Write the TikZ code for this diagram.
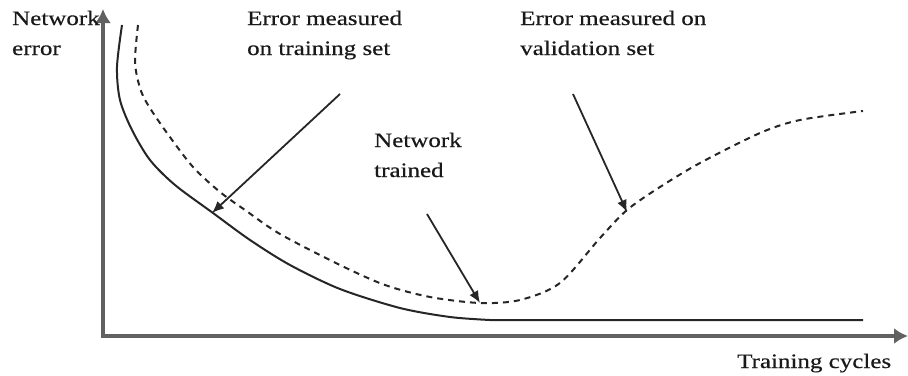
\documentclass[tikz,border=0pt]{standalone}
\usepackage{fontspec}
\setmainfont{Liberation Serif}
\newfontfamily\lblfont[FakeStretch=1.22,FakeBold=0.4]{Liberation Serif}
\usetikzlibrary{arrows.meta}
\tikzset{
  lbl/.style={font=\lblfont\fontsize{20.5}{30}\selectfont, align=left,
    anchor=base west, inner sep=0pt, text=black!90},
  axis/.style={line width=3.2pt, draw=black!62},
  curve/.style={line width=2pt, draw=black!85},
  vcurve/.style={curve, dash pattern=on 6pt off 5pt},
  pointer/.style={line width=1.8pt, draw=black!85,
    -{Latex[length=12pt,width=10pt]}}
}
\begin{document}
\begin{tikzpicture}[x=1pt,y=-1pt]
  \useasboundingbox (0,0) rectangle (908,375);
  % axes
  \coordinate (origin) at (103,336);
  \coordinate (ytip) at (103,9);
  \coordinate (xtip) at (908,336);
  \draw[axis, {Latex[length=14pt,width=16pt]}-{Latex[length=14pt,width=16pt]}]
    (ytip) -- (origin) -- (xtip);

  % error on the training set: falls, then levels off
  \draw[curve] plot[smooth, tension=0.5] coordinates {
    (122,25) (117,67) (120,100) (132,130) (150,160) (175,185) (213,213)
    (250,240) (290,265) (340,289) (400,308) (450,317) (490,320)}
    -- (863,320);

  % error on the validation set
  \draw[vcurve] plot[smooth, tension=0.5] coordinates {
    (138,25) (135,62) (140,88) (148,105) (167,133) (193,167) (220,192)
    (245,210) (280,234) (340,265) (385,285) (430,297) (480,303) (520,300)
    (560,283) (600,238) (627,210) (660,187) (700,163) (760,133) (800,120)
    (863,111)};

  % labels
  \node[lbl] (yl) at (12,55) {Network\\error};
  \node[lbl] (trl) at (247,55) {Error measured\\on training set};
  \node[lbl] (val) at (520,55) {Error measured on\\validation set};
  \node[lbl] (net) at (374,177) {Network\\trained};
  \node[lbl] (xl) at (737,368) {Training cycles};

  % pointers from the labels to the curves
  \coordinate (trfrom) at (340,94);
  \coordinate (trto) at (212,213);
  \coordinate (netfrom) at (427,214);
  \coordinate (netto) at (480,303);
  \coordinate (valfrom) at (573,94);
  \coordinate (valto) at (627,212);
  \draw[pointer] (trfrom) -- (trto);
  \draw[pointer] (netfrom) -- (netto);
  \draw[pointer] (valfrom) -- (valto);
\end{tikzpicture}
\end{document}
